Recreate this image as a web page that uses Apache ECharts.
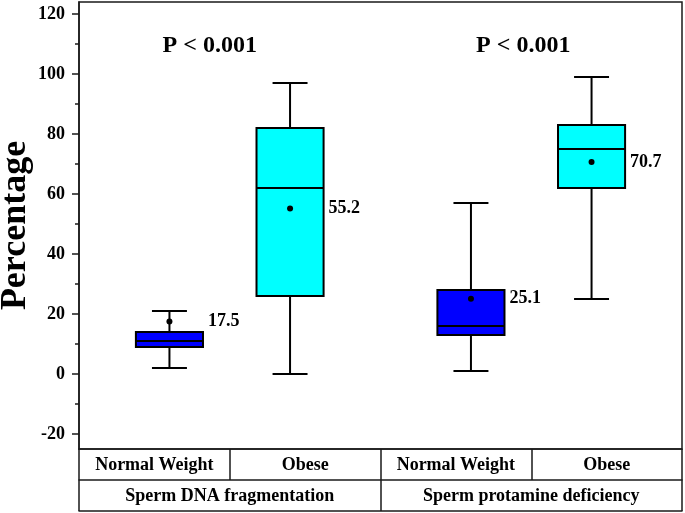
<!DOCTYPE html>
<html>
<head>
<meta charset="utf-8">
<script src="https://cdn.jsdelivr.net/npm/echarts@6/dist/echarts.min.js"></script>
<style>
html,body{margin:0;padding:0;background:#fff;}
#chart{width:685px;height:513px;}
</style>
</head>
<body>
<div id="chart"></div>
<script>
// ---- data ----
const groupCategories = ['Normal Weight', 'Obese', 'Normal Weight', 'Obese'];
const measureCategories = ['Sperm DNA fragmentation', 'Sperm protamine deficiency'];
// [min, Q1, median, Q3, max]
const boxStats = [
  [2, 9, 11, 14, 21],
  [0, 26, 62, 82, 97],
  [1, 13, 16, 28, 57],
  [25, 62, 75, 83, 99]
];
const meanValues = [17.5, 55.2, 25.1, 70.7];
const pLabels = ['P < 0.001', 'P < 0.001'];
const pLabelValue = 109.5;
const majorTicks = [-20, 0, 20, 40, 60, 80, 100, 120];
const minorTicks = [-10, 10, 30, 50, 70, 90, 110];
const boxColors = ['#0000FF', '#00FFFF', '#0000FF', '#00FFFF'];

const FONT = '"Liberation Serif", "Times New Roman", serif';
const LINE = '#1a1a1a';
const pLabelShift = [-20, -8];

const boxData = boxStats.map((s, i) => [i].concat(s, [meanValues[i]]));
const pData = pLabels.map((t, g) => [g * 2, pLabelValue]);

const chart = echarts.init(document.getElementById('chart'), null, {renderer: 'canvas'});

const tableLine = {show: true, onZero: false, lineStyle: {color: LINE, width: 1.5}};

const option = {
  backgroundColor: '#fff',
  animation: false,
  grid: {
    left: 79, right: 3, top: 2, bottom: 64,
    show: true, borderColor: LINE, borderWidth: 1.5, backgroundColor: 'transparent',
    containLabel: false, outerBoundsMode: 'none'
  },
  xAxis: [
    {
      type: 'category', data: groupCategories, position: 'bottom', boundaryGap: true,
      axisLine: tableLine,
      axisTick: {show: true, inside: false, length: 31, alignWithLabel: false, lineStyle: {color: LINE, width: 1.5}},
      axisLabel: {show: true, margin: 7, color: '#000', fontFamily: FONT, fontWeight: 'bold', fontSize: 18, interval: 0},
      splitLine: {show: false}
    },
    {
      type: 'category', data: measureCategories, position: 'bottom', offset: 31, boundaryGap: true,
      axisLine: tableLine,
      axisTick: {show: true, inside: false, length: 31, alignWithLabel: false, lineStyle: {color: LINE, width: 1.5}},
      axisLabel: {show: true, margin: 7, color: '#000', fontFamily: FONT, fontWeight: 'bold', fontSize: 18, interval: 0},
      splitLine: {show: false}
    },
    {
      type: 'category', data: [''], position: 'bottom', offset: 62,
      axisLine: tableLine,
      axisTick: {show: false}, axisLabel: {show: false}, splitLine: {show: false}
    }
  ],
  yAxis: [
    {
      type: 'value', min: -25, max: 124, position: 'left',
      name: 'Percentage', nameLocation: 'middle', nameGap: 45, nameMoveOverlap: false,
      nameTextStyle: {color: '#000', fontFamily: FONT, fontWeight: 'bold', fontSize: 36},
      axisLine: {show: true, onZero: false, lineStyle: {color: LINE, width: 1.5}},
      axisTick: {show: true, inside: false, length: 7, customValues: majorTicks, lineStyle: {color: LINE, width: 1.5}},
      axisLabel: {show: true, margin: 14, customValues: majorTicks, color: '#000', fontFamily: FONT, fontWeight: 'bold', fontSize: 18},
      splitLine: {show: false}
    },
    {
      type: 'value', min: -25, max: 124, position: 'left',
      axisLine: {show: false, onZero: false},
      axisTick: {show: true, inside: false, length: 4, customValues: minorTicks, lineStyle: {color: LINE, width: 1.5}},
      axisLabel: {show: false},
      splitLine: {show: false}
    }
  ],
  series: [
    {
      type: 'custom',
      xAxisIndex: 0, yAxisIndex: 0,
      data: boxData,
      renderItem: function (params, api) {
        const idx = api.value(0);
        const band = api.size([1, 0])[0];
        const off = (idx % 2 === 0 ? 1 : -1) * band * 0.1;
        const cx = api.coord([idx, 0])[0] + off;
        const y = v => api.coord([idx, v])[1];
        const bw = band * 0.445, cw = band * 0.232;
        const mn = api.value(1), q1 = api.value(2), md = api.value(3), q3 = api.value(4), mx = api.value(5), mean = api.value(6);
        const ls = {stroke: '#000', lineWidth: 2};
        return {
          type: 'group',
          children: [
            {type: 'line', shape: {x1: cx, y1: y(mx), x2: cx, y2: y(q3)}, style: ls},
            {type: 'line', shape: {x1: cx, y1: y(q1), x2: cx, y2: y(mn)}, style: ls},
            {type: 'line', shape: {x1: cx - cw / 2, y1: y(mx), x2: cx + cw / 2, y2: y(mx)}, style: ls},
            {type: 'line', shape: {x1: cx - cw / 2, y1: y(mn), x2: cx + cw / 2, y2: y(mn)}, style: ls},
            {type: 'rect', shape: {x: cx - bw / 2, y: y(q3), width: bw, height: y(q1) - y(q3)},
              style: {fill: boxColors[idx], stroke: '#000', lineWidth: 2}},
            {type: 'line', shape: {x1: cx - bw / 2, y1: y(md), x2: cx + bw / 2, y2: y(md)}, style: ls},
            {type: 'circle', shape: {cx: cx, cy: y(mean), r: 3}, style: {fill: '#000'}},
            {type: 'text', x: cx + bw / 2 + 5, y: y(mean),
              style: {text: mean.toFixed(1), fill: '#000', font: 'bold 18px ' + FONT, verticalAlign: 'middle', align: 'left'}}
          ]
        };
      }
    },
    {
      type: 'custom',
      xAxisIndex: 0, yAxisIndex: 0,
      data: pData,
      renderItem: function (params, api) {
        const i0 = api.value(0);
        const x0 = api.coord([i0, 0])[0];
        const x1 = api.coord([i0 + 1, 0])[0];
        const yy = api.coord([i0, api.value(1)])[1];
        return {
          type: 'text', x: (x0 + x1) / 2 + pLabelShift[params.dataIndex], y: yy,
          style: {text: pLabels[params.dataIndex], fill: '#000', font: 'bold 24px ' + FONT, align: 'center', verticalAlign: 'middle'}
        };
      }
    }
  ]
};
chart.setOption(option);
</script>
</body>
</html>
